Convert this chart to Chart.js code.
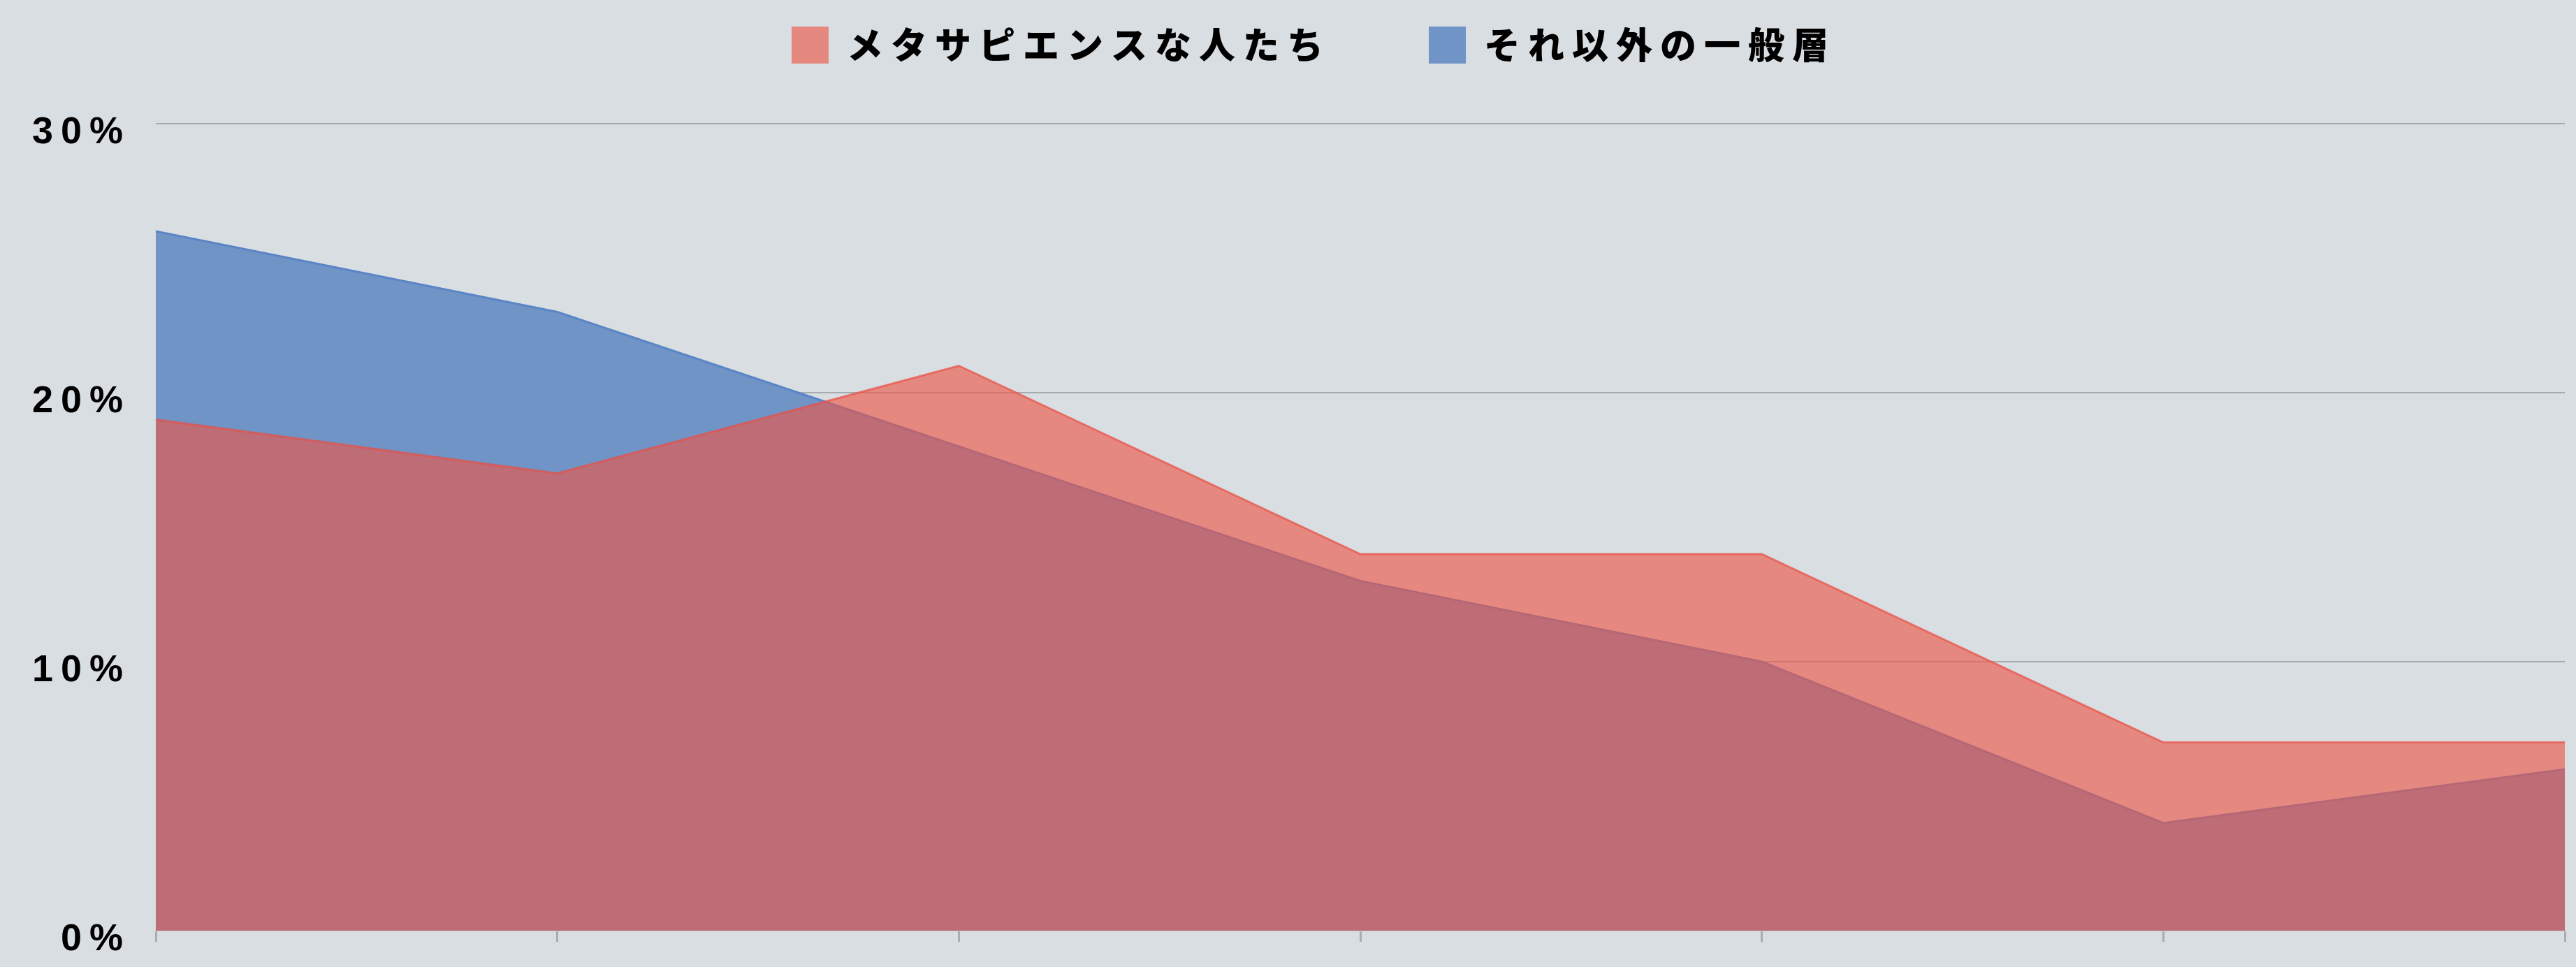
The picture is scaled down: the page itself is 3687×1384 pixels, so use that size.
<!DOCTYPE html>
<html>
<head>
<meta charset="utf-8">
<script src="https://cdn.jsdelivr.net/npm/chart.js@4/dist/chart.umd.min.js"></script>
<style>
  html, body { margin: 0; padding: 0; background: #d9dee2; }
  canvas { display: block; }
</style>
</head>
<body>
<canvas id="area" width="3687" height="1384"></canvas>
<script>
// x categories (no labels are printed on the original axis)
const categories = ["1", "2", "3", "4", "5", "6", "7"];
const seriesNames = ["メタサピエンスな人たち", "それ以外の一般層"];
const metaValues = [19, 17, 21, 14, 14, 7, 7];
const generalValues = [26, 23, 18, 13, 10, 4, 6];
const yTicks = [0, 10, 20, 30];

// letter spaced text like the original
const spacing = {
    id: "spacing",
    beforeUpdate(chart) { chart.ctx.letterSpacing = "11px"; },
    beforeDraw(chart) { chart.ctx.letterSpacing = "11px"; }
};

// push the plot down below the legend, and nudge the legend row right
const legendSpace = {
    id: "legendSpace",
    beforeInit(chart) {
        const fit = chart.legend.fit;
        chart.legend.fit = function () {
            fit.bind(chart.legend)();
            this.height = 279;
            if (this.lineWidths && this.lineWidths.length) {
                this.lineWidths[0] -= 50;
            }
        };
    }
};

const ctx = document.getElementById("area");

const chart = new Chart(ctx, {
    type: "line",
    data: {
        labels: categories,
        datasets: [
            {
                label: seriesNames[0],
                data: metaValues,
                backgroundColor: "rgba(236, 86, 72, 0.63)",
                borderColor: "rgba(232, 80, 70, 0.7)",
                borderWidth: 3,
                fill: "origin",
                pointRadius: 0,
                tension: 0
            },
            {
                label: seriesNames[1],
                data: generalValues,
                backgroundColor: "#7094c6",
                borderColor: "#5a85c6",
                borderWidth: 3,
                fill: "origin",
                pointRadius: 0,
                tension: 0
            }
        ]
    },
    options: {
        responsive: false,
        animation: false,
        layout: {
            padding: { top: -102, left: 40, right: 16, bottom: 36 }
        },
        plugins: {
            tooltip: { enabled: false },
            legend: {
                position: "top",
                labels: {
                    boxWidth: 53,
                    boxHeight: 53,
                    padding: 140,
                    color: "#000",
                    font: { family: '"Noto Sans CJK JP"', size: 52, weight: "900" },
                    generateLabels: function (chart) {
                        const items = Chart.defaults.plugins.legend.labels.generateLabels(chart);
                        items.forEach(function (item) { item.lineWidth = 0; });
                        return items;
                    }
                }
            }
        },
        scales: {
            x: {
                offset: false,
                ticks: { display: false },
                grid: {
                    drawOnChartArea: false,
                    drawTicks: true,
                    tickLength: 16,
                    color: "#a9acb0",
                    lineWidth: 3
                },
                border: { display: true, color: "#c9ccd0", width: 2 }
            },
            y: {
                min: 0,
                max: 30,
                z: 1,
                afterFit: function (scale) {
                    scale.width = 183;
                    scale.paddingTop = 0;
                    scale.paddingBottom = 0;
                },
                afterBuildTicks: function (scale) {
                    scale.ticks = yTicks.map(function (v) { return { value: v }; });
                },
                ticks: {
                    padding: 36,
                    labelOffset: 13,
                    color: "#000",
                    font: { family: '"Liberation Sans", Arial, sans-serif', size: 54, weight: "bold" },
                    callback: function (value) { return value + "%"; }
                },
                grid: {
                    drawTicks: false,
                    lineWidth: 2,
                    color: function (c) {
                        return c.tick && c.tick.value === 0 ? "rgba(0,0,0,0)" : "rgba(90, 95, 100, 0.4)";
                    }
                },
                border: { display: false }
            }
        }
    },
    plugins: [spacing, legendSpace]
});
</script>
</body>
</html>
